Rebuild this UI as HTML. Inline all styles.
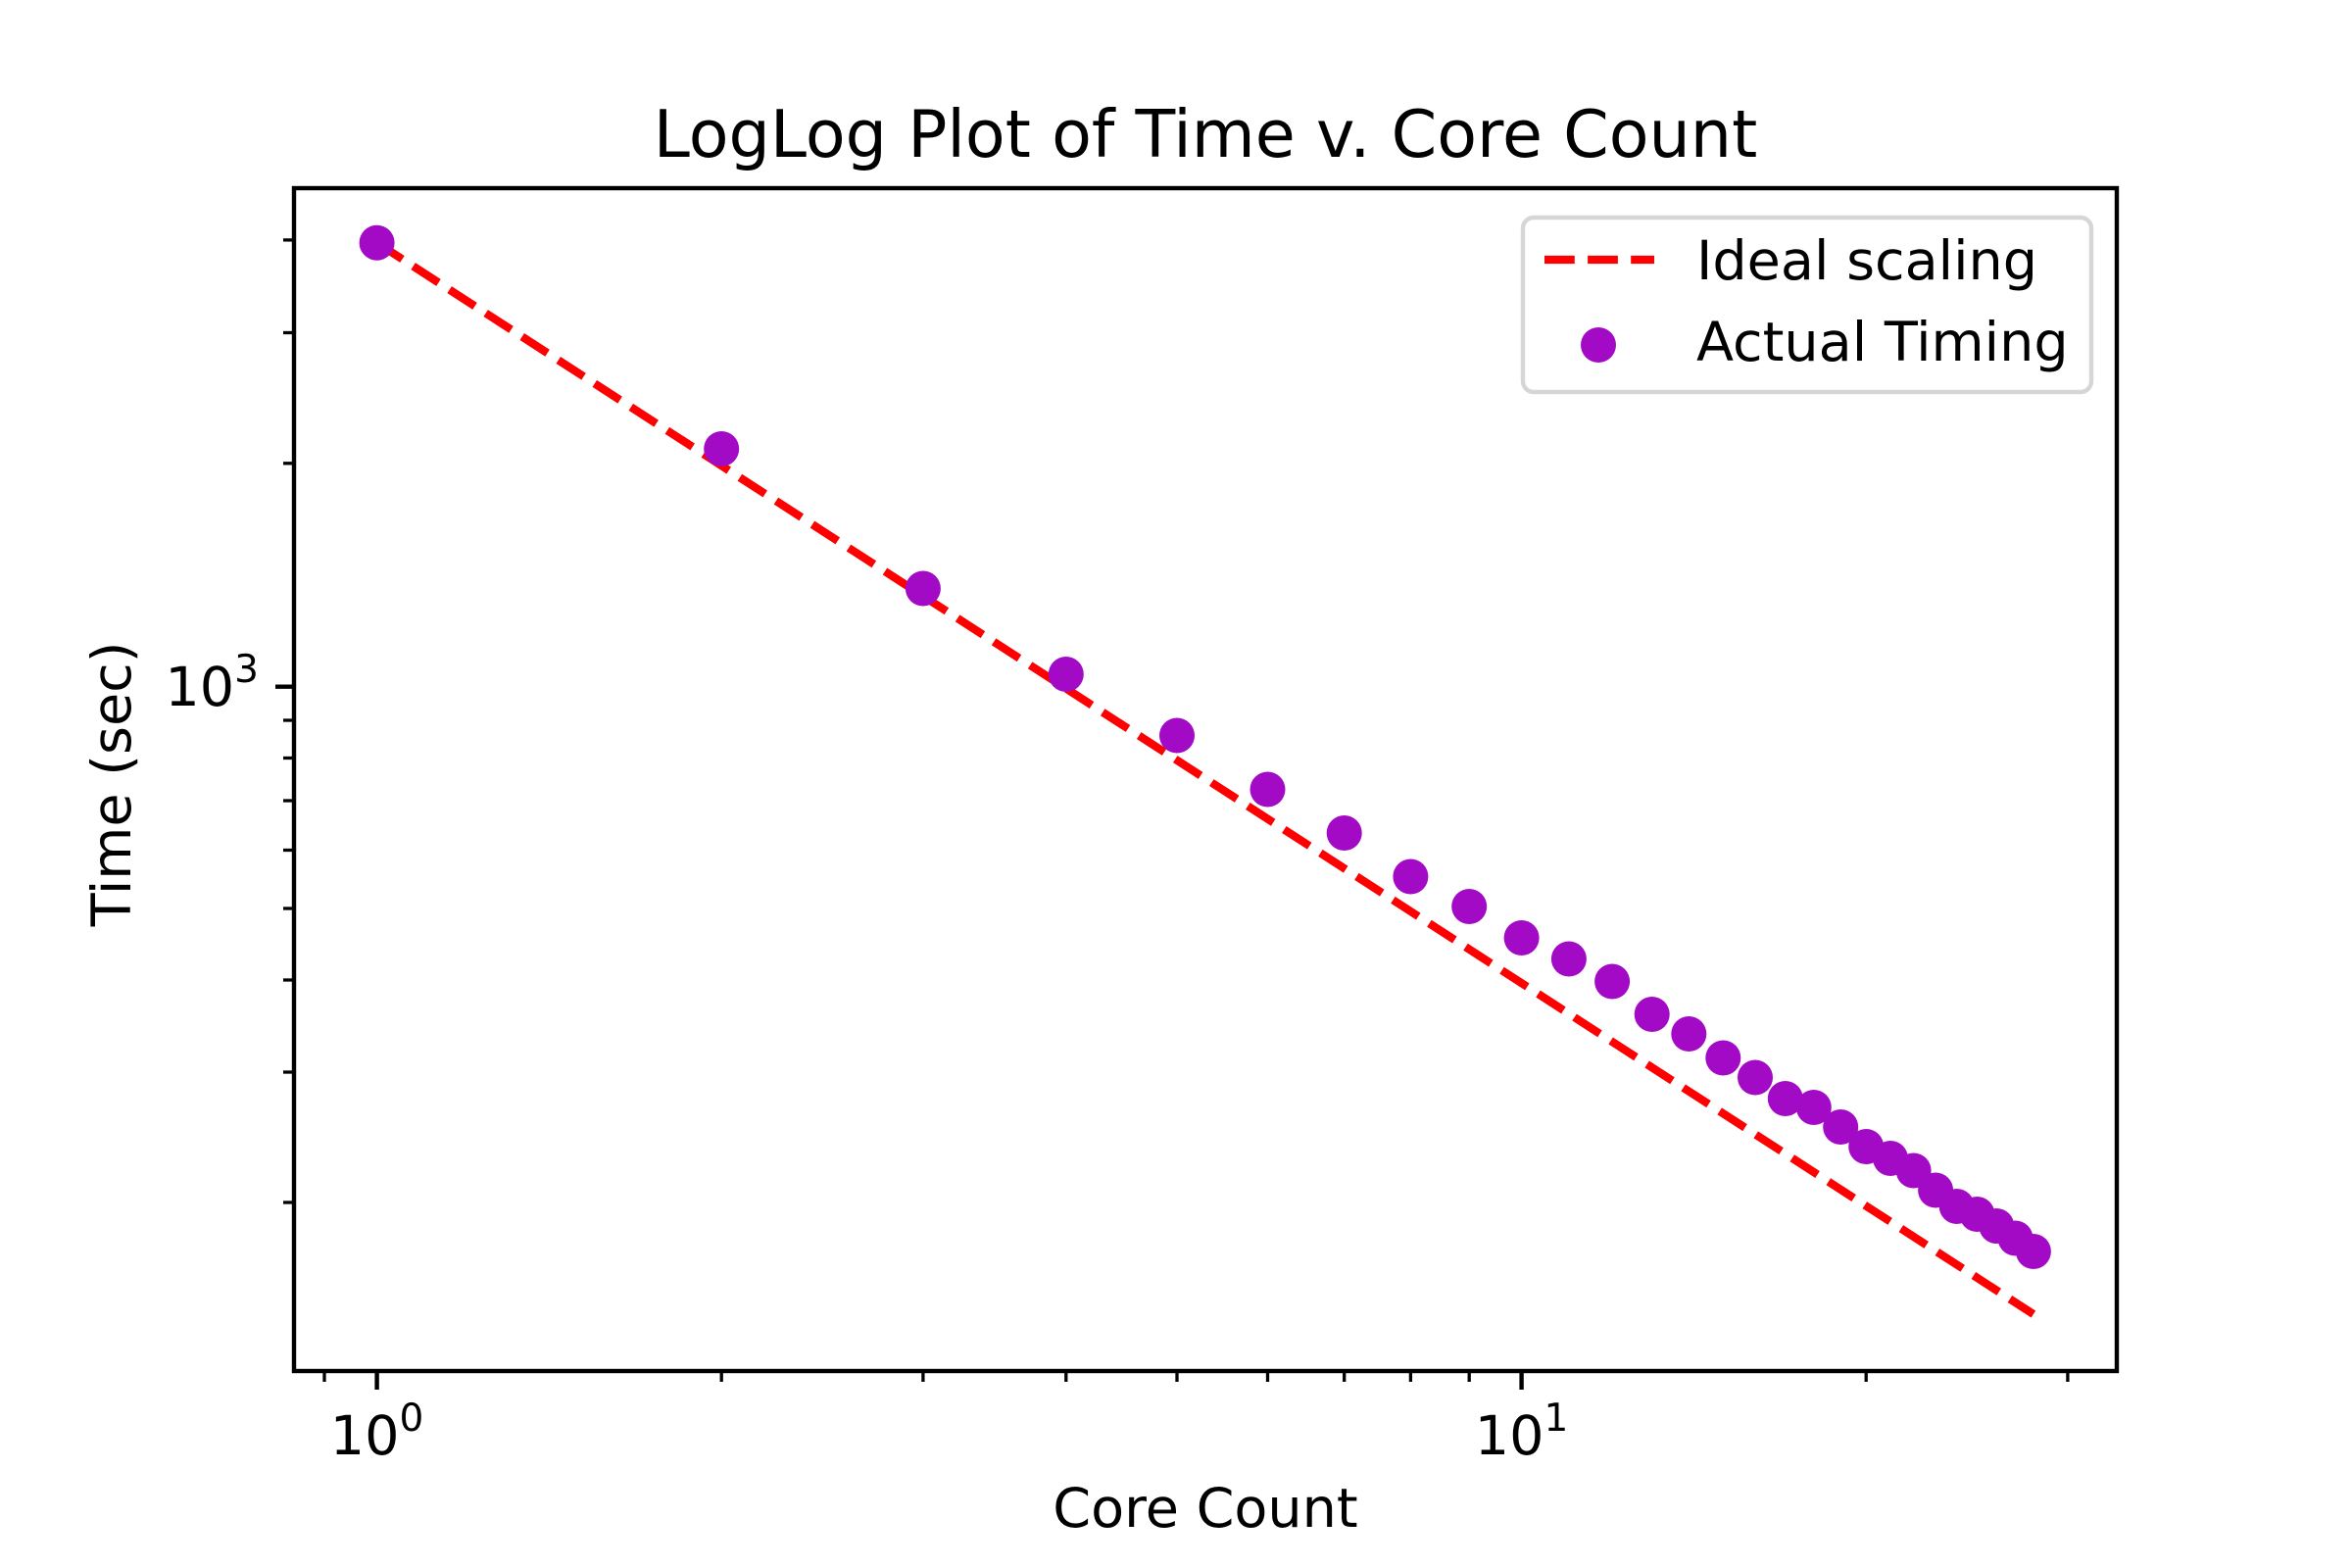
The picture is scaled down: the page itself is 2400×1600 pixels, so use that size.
<!DOCTYPE html>
<html><head><meta charset="utf-8"><style>html,body{margin:0;padding:0;background:#fff}svg{display:block}</style></head>
<body>
<svg width="2400" height="1600" viewBox="0 0 2400 1600" xmlns="http://www.w3.org/2000/svg" font-family="'DejaVu Sans','Liberation Sans',sans-serif">
<rect width="2400" height="1600" fill="#fff"/>
<text x="1230" y="160" font-size="66.7" text-anchor="middle">LogLog Plot of Time v. Core Count</text>
<line x1="384.6" y1="247.7" x2="2074.9" y2="1341" stroke="#ff0000" stroke-width="8.3" stroke-dasharray="30.8 13.3"/>
<g fill="#a20ac5">
<circle cx="384.6" cy="247.7" r="18"/><circle cx="736.2" cy="458" r="18"/><circle cx="941.9" cy="600.5" r="18"/><circle cx="1087.8" cy="688" r="18"/><circle cx="1201.0" cy="750.5" r="18"/><circle cx="1293.5" cy="805.5" r="18"/><circle cx="1371.7" cy="850" r="18"/><circle cx="1439.4" cy="894.5" r="18"/><circle cx="1499.2" cy="925" r="18"/><circle cx="1552.6" cy="957" r="18"/><circle cx="1600.9" cy="978.5" r="18"/><circle cx="1645.1" cy="1001.5" r="18"/><circle cx="1685.7" cy="1035" r="18"/><circle cx="1723.3" cy="1055" r="18"/><circle cx="1758.3" cy="1079.5" r="18"/><circle cx="1791.0" cy="1099.5" r="18"/><circle cx="1821.8" cy="1121" r="18"/><circle cx="1850.8" cy="1130" r="18"/><circle cx="1878.2" cy="1150" r="18"/><circle cx="1904.2" cy="1170" r="18"/><circle cx="1929.0" cy="1182" r="18"/><circle cx="1952.6" cy="1194.5" r="18"/><circle cx="1975.1" cy="1214.5" r="18"/><circle cx="1996.7" cy="1231" r="18"/><circle cx="2017.4" cy="1239" r="18"/><circle cx="2037.3" cy="1251" r="18"/><circle cx="2056.5" cy="1263.5" r="18"/><circle cx="2074.9" cy="1277" r="18"/>
</g>
<rect x="300" y="192" width="1860" height="1207" fill="none" stroke="#000" stroke-width="4.4"/>
<g stroke="#000">
<line x1="384.6" y1="1399" x2="384.6" y2="1418" stroke-width="4.4"/>
<line x1="1552.6" y1="1399" x2="1552.6" y2="1418" stroke-width="4.4"/>
<g stroke-width="3.3">
<line x1="331" y1="1399" x2="331" y2="1410"/><line x1="736.2" y1="1399" x2="736.2" y2="1410"/><line x1="941.9" y1="1399" x2="941.9" y2="1410"/><line x1="1087.8" y1="1399" x2="1087.8" y2="1410"/><line x1="1201" y1="1399" x2="1201" y2="1410"/><line x1="1293.5" y1="1399" x2="1293.5" y2="1410"/><line x1="1371.7" y1="1399" x2="1371.7" y2="1410"/><line x1="1439.4" y1="1399" x2="1439.4" y2="1410"/><line x1="1499.2" y1="1399" x2="1499.2" y2="1410"/><line x1="1904.2" y1="1399" x2="1904.2" y2="1410"/><line x1="2109.9" y1="1399" x2="2109.9" y2="1410"/>
</g>
<line x1="300" y1="700.7" x2="281" y2="700.7" stroke-width="4.4"/>
<g stroke-width="3.3">
<line x1="300" y1="1227" x2="289" y2="1227"/><line x1="300" y1="1094" x2="289" y2="1094"/><line x1="300" y1="1000" x2="289" y2="1000"/><line x1="300" y1="927" x2="289" y2="927"/><line x1="300" y1="867.5" x2="289" y2="867.5"/><line x1="300" y1="817" x2="289" y2="817"/><line x1="300" y1="773.5" x2="289" y2="773.5"/><line x1="300" y1="735" x2="289" y2="735"/><line x1="300" y1="472.8" x2="289" y2="472.8"/><line x1="300" y1="339.5" x2="289" y2="339.5"/><line x1="300" y1="244.9" x2="289" y2="244.9"/>
</g>
</g>
<g font-size="55.6">
<text x="384.6" y="1484" text-anchor="middle">10<tspan font-size="39" dy="-24">0</tspan></text>
<text x="1552.6" y="1484" text-anchor="middle">10<tspan font-size="39" dy="-24">1</tspan></text>
<text x="264" y="720" text-anchor="end">10<tspan font-size="39" dy="-24">3</tspan></text>
<text x="1230" y="1558" text-anchor="middle">Core Count</text>
<text transform="translate(133,800) rotate(-90)" text-anchor="middle">Time (sec)</text>
</g>
<rect x="1554" y="222" width="580" height="178" rx="11" fill="#fff" fill-opacity="0.8" stroke="#d6d6d6" stroke-width="4.4"/>
<line x1="1576" y1="265" x2="1688" y2="265" stroke="#ff0000" stroke-width="8.3" stroke-dasharray="30.8 13.3"/>
<circle cx="1631" cy="352" r="18" fill="#a20ac5"/>
<g font-size="55.6">
<text x="1731" y="285">Ideal scaling</text>
<text x="1731" y="368">Actual Timing</text>
</g>
</svg>
</body></html>
